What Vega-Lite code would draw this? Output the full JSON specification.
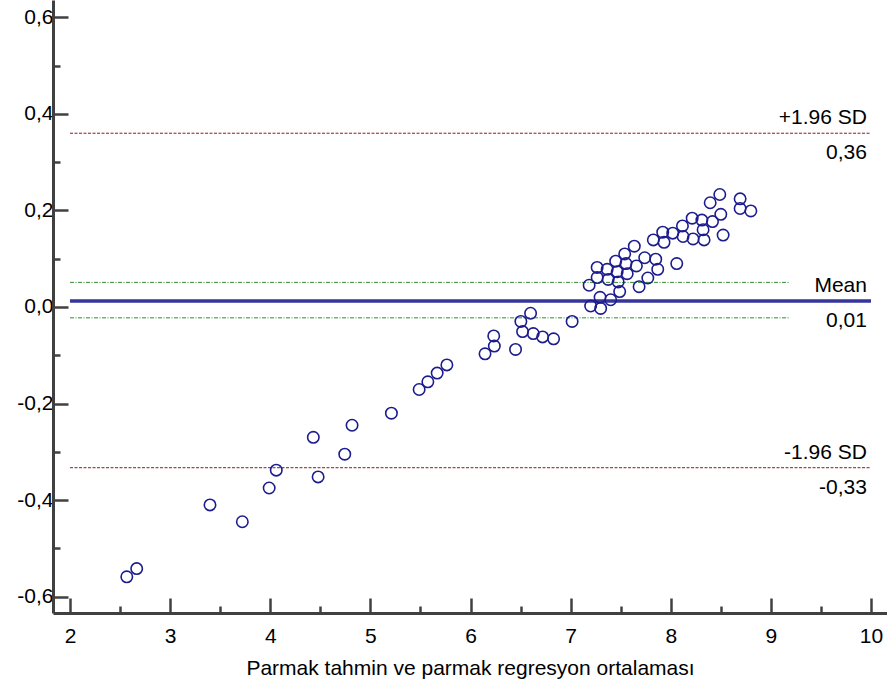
{
  "$schema": "https://vega.github.io/schema/vega-lite/v6.json",
  "width": 834,
  "height": 613,
  "autosize": {"type": "none"},
  "padding": {"left": 53, "top": 0, "right": 0, "bottom": 74},
  "background": "white",
  "config": {
    "view": {"stroke": null},
    "font": "Liberation Sans",
    "axis": {
      "domainColor": "#404040",
      "domainWidth": 3,
      "tickColor": "#404040",
      "tickWidth": 2.5,
      "grid": false,
      "labelFont": "Liberation Sans",
      "labelFontSize": 21,
      "labelColor": "#000000",
      "titleFont": "Liberation Sans",
      "titleFontSize": 21,
      "titleFontWeight": "normal",
      "titleColor": "#000000",
      "labelFlush": false,
      "labelOverlap": false
    }
  },
  "datasets": {
    "points": [
      {"avg": 2.567, "diff": -0.559}, {"avg": 2.666, "diff": -0.542},
      {"avg": 3.398, "diff": -0.410}, {"avg": 3.721, "diff": -0.445},
      {"avg": 3.989, "diff": -0.375}, {"avg": 4.060, "diff": -0.338},
      {"avg": 4.430, "diff": -0.270}, {"avg": 4.478, "diff": -0.352},
      {"avg": 4.744, "diff": -0.305}, {"avg": 4.817, "diff": -0.245},
      {"avg": 5.210, "diff": -0.220}, {"avg": 5.487, "diff": -0.171},
      {"avg": 5.574, "diff": -0.155}, {"avg": 5.667, "diff": -0.137},
      {"avg": 5.764, "diff": -0.120}, {"avg": 6.145, "diff": -0.097},
      {"avg": 6.238, "diff": -0.081}, {"avg": 6.232, "diff": -0.060},
      {"avg": 6.450, "diff": -0.088}, {"avg": 6.503, "diff": -0.030},
      {"avg": 6.520, "diff": -0.051}, {"avg": 6.600, "diff": -0.013},
      {"avg": 6.627, "diff": -0.055}, {"avg": 6.720, "diff": -0.062},
      {"avg": 6.830, "diff": -0.066}, {"avg": 7.015, "diff": -0.030},
      {"avg": 7.200, "diff": 0.002}, {"avg": 7.300, "diff": -0.003},
      {"avg": 7.294, "diff": 0.020}, {"avg": 7.400, "diff": 0.015},
      {"avg": 7.185, "diff": 0.045}, {"avg": 7.265, "diff": 0.082},
      {"avg": 7.365, "diff": 0.078}, {"avg": 7.465, "diff": 0.073},
      {"avg": 7.565, "diff": 0.069}, {"avg": 7.265, "diff": 0.061},
      {"avg": 7.375, "diff": 0.057}, {"avg": 7.475, "diff": 0.052},
      {"avg": 7.490, "diff": 0.032}, {"avg": 7.684, "diff": 0.042},
      {"avg": 7.771, "diff": 0.060}, {"avg": 7.657, "diff": 0.085},
      {"avg": 7.553, "diff": 0.090}, {"avg": 7.450, "diff": 0.095},
      {"avg": 7.540, "diff": 0.110}, {"avg": 7.636, "diff": 0.126},
      {"avg": 7.740, "diff": 0.102}, {"avg": 7.850, "diff": 0.099},
      {"avg": 7.870, "diff": 0.078}, {"avg": 8.060, "diff": 0.090},
      {"avg": 7.826, "diff": 0.139}, {"avg": 7.933, "diff": 0.134},
      {"avg": 7.920, "diff": 0.155}, {"avg": 8.020, "diff": 0.153},
      {"avg": 8.117, "diff": 0.168}, {"avg": 8.123, "diff": 0.146},
      {"avg": 8.214, "diff": 0.184}, {"avg": 8.223, "diff": 0.141},
      {"avg": 8.311, "diff": 0.180}, {"avg": 8.323, "diff": 0.160},
      {"avg": 8.333, "diff": 0.139}, {"avg": 8.417, "diff": 0.177},
      {"avg": 8.394, "diff": 0.216}, {"avg": 8.490, "diff": 0.233},
      {"avg": 8.500, "diff": 0.192}, {"avg": 8.523, "diff": 0.149},
      {"avg": 8.693, "diff": 0.224}, {"avg": 8.693, "diff": 0.204},
      {"avg": 8.800, "diff": 0.199}
    ],
    "lines": [
      {"name": "upper", "value": 0.36, "from": 2, "to": 10},
      {"name": "ciHigh", "value": 0.051, "from": 2, "to": 9.19},
      {"name": "mean", "value": 0.0125, "from": 2, "to": 10},
      {"name": "ciLow", "value": -0.0225, "from": 2, "to": 9.19},
      {"name": "lower", "value": -0.333, "from": 2, "to": 10}
    ],
    "labels": [
      {"text": "+1.96 SD", "value": 0.36, "pos": "above"},
      {"text": "0,36", "value": 0.36, "pos": "below"},
      {"text": "Mean", "value": 0.0125, "pos": "above"},
      {"text": "0,01", "value": 0.0125, "pos": "below"},
      {"text": "-1.96 SD", "value": -0.333, "pos": "above"},
      {"text": "-0,33", "value": -0.333, "pos": "below"}
    ]
  },
  "layer": [
    {
      "data": {"name": "lines"},
      "transform": [{"filter": "datum.name === 'upper' || datum.name === 'lower'"}],
      "mark": {"type": "rule", "color": "#8b1a1a", "strokeWidth": 1, "strokeDash": [3, 1.5]},
      "encoding": {
        "x": {"field": "from", "type": "quantitative"},
        "x2": {"field": "to"},
        "y": {"field": "value", "type": "quantitative"}
      }
    },
    {
      "data": {"name": "lines"},
      "transform": [{"filter": "datum.name === 'ciHigh' || datum.name === 'ciLow'"}],
      "mark": {"type": "rule", "color": "#2e8b2e", "strokeWidth": 1, "strokeDash": [4, 1.5, 1, 1.5]},
      "encoding": {
        "x": {"field": "from", "type": "quantitative"},
        "x2": {"field": "to"},
        "y": {"field": "value", "type": "quantitative"}
      }
    },
    {
      "data": {"name": "lines"},
      "transform": [{"filter": "datum.name === 'mean'"}],
      "mark": {"type": "rule", "color": "#35359c", "strokeWidth": 3.5},
      "encoding": {
        "x": {"field": "from", "type": "quantitative"},
        "x2": {"field": "to"},
        "y": {"field": "value", "type": "quantitative"}
      }
    },
    {
      "data": {"name": "points"},
      "mark": {"type": "point", "shape": "circle", "filled": false, "color": "#1c1c8e", "strokeWidth": 1.6, "size": 130, "opacity": 1},
      "encoding": {
        "x": {
          "field": "avg",
          "type": "quantitative",
          "scale": {"domain": [1.83, 10.16], "nice": false, "zero": false},
          "axis": {
            "title": "Parmak tahmin ve parmak regresyon ortalaması",
            "values": [2, 2.5, 3, 3.5, 4, 4.5, 5, 5.5, 6, 6.5, 7, 7.5, 8, 8.5, 9, 9.5, 10],
            "labelExpr": "datum.value % 1 == 0 ? format(datum.value, 'd') : ''",
            "tickSize": {"condition": {"test": "datum.value % 1 != 0", "value": -7}, "value": -15},
            "labelPadding": 27,
            "titlePadding": 3
          }
        },
        "y": {
          "field": "diff",
          "type": "quantitative",
          "scale": {"domain": [-0.634, 0.636], "nice": false, "zero": false},
          "axis": {
            "title": null,
            "values": [-0.6, -0.5, -0.4, -0.3, -0.2, -0.1, 0, 0.1, 0.2, 0.3, 0.4, 0.5, 0.6],
            "labelExpr": "abs(round(datum.value * 10)) % 2 == 1 ? '' : (datum.value < 0 ? '-' : '') + replace(format(abs(datum.value), '.1f'), '.', ',')",
            "tickSize": {"condition": {"test": "abs(round(datum.value * 10)) % 2 == 1", "value": -7}, "value": -15},
            "labelPadding": 15
          }
        }
      }
    },
    {
      "data": {"name": "labels"},
      "transform": [{"filter": "datum.pos === 'above'"}],
      "mark": {"type": "text", "align": "right", "baseline": "middle", "dx": -4, "dy": -15, "fontSize": 21, "font": "Liberation Sans", "color": "#000000"},
      "encoding": {
        "x": {"datum": 10, "type": "quantitative"},
        "y": {"field": "value", "type": "quantitative"},
        "text": {"field": "text"}
      }
    },
    {
      "data": {"name": "labels"},
      "transform": [{"filter": "datum.pos === 'below'"}],
      "mark": {"type": "text", "align": "right", "baseline": "middle", "dx": -4, "dy": 20, "fontSize": 21, "font": "Liberation Sans", "color": "#000000"},
      "encoding": {
        "x": {"datum": 10, "type": "quantitative"},
        "y": {"field": "value", "type": "quantitative"},
        "text": {"field": "text"}
      }
    }
  ]
}
